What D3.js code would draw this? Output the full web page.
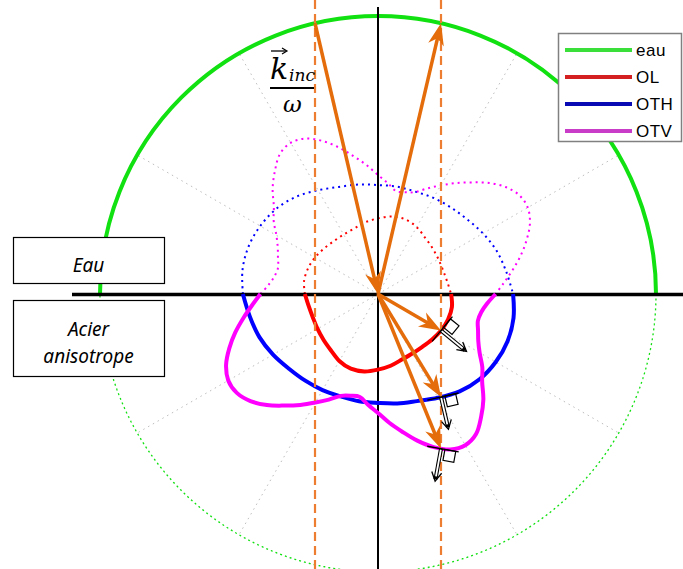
<!DOCTYPE html>
<html>
<head>
<meta charset="utf-8">
<script src="https://cdn.jsdelivr.net/npm/d3@7"></script>
<style>
  body { margin: 0; background: #fff; }
  svg { display: block; }
</style>
</head>
<body>
<div id="graph"></div>
<script>
// Slowness curves, normalised by the water slowness.
// Only the half under the interface is listed (angle from +x, turning downward);
// the dotted upper half is the same curve turned by 180 degrees.
const anglesLT = [0, 10, 20, 30, 40, 50, 60, 70, 80, 90, 100, 110, 120, 130, 140, 150, 160, 170, 180];
const slownessOL = [0.263, 0.270, 0.268, 0.262, 0.254, 0.248, 0.247, 0.251, 0.262, 0.272, 0.283, 0.286, 0.278, 0.264, 0.256, 0.251, 0.249, 0.253, 0.263];
const slownessOTH = [0.486, 0.495, 0.496, 0.489, 0.477, 0.457, 0.431, 0.410, 0.400, 0.392, 0.392, 0.392, 0.399, 0.407, 0.418, 0.436, 0.454, 0.468, 0.486];
const anglesTV = [0, 5, 10, 15, 20, 25, 30, 35, 40, 45, 50, 55, 60, 65, 70, 75, 80, 85, 90,
                  95, 100, 105, 110, 115, 120, 125, 130, 135, 140, 145, 150, 155, 160, 165, 170, 175, 180];
const slownessOTV = [0.423, 0.394, 0.377, 0.372, 0.383, 0.398, 0.422, 0.458, 0.489, 0.536, 0.577, 0.615, 0.628, 0.617, 0.586, 0.546, 0.503, 0.465, 0.428,
                     0.401, 0.376, 0.379, 0.390, 0.419, 0.451, 0.487, 0.524, 0.565, 0.599, 0.620, 0.622, 0.603, 0.569, 0.531, 0.491, 0.454, 0.423];
const slownessEau = 1;
const kInc = 0.2266;   // tangential part of k_inc / omega
const gridAngles = [30, 60, 120, 150, 210, 240, 300, 330];
const legendNames = ["eau", "OL", "OTH", "OTV"];
const legendColors = ["#3ADF3A", "#D42020", "#0A0AB4", "#C83CC8"];

const width = 683, height = 569;
const cx = 378, cy = 294;
const orange = "#E46C0A";
const r = d3.scaleLinear().domain([0, 1]).range([0, 278]);
const rad = (deg) => deg * Math.PI / 180;

const svg = d3.select("#graph").append("svg")
  .attr("width", width).attr("height", height);
const g = svg.append("g").attr("transform", "translate(" + cx + "," + cy + ")");

// grid rays
gridAngles.forEach((a) => {
  g.append("line")
    .attr("x1", 0).attr("y1", 0)
    .attr("x2", r(slownessEau) * Math.cos(rad(a)))
    .attr("y2", -r(slownessEau) * Math.sin(rad(a)))
    .attr("stroke", "#BDBDBD").attr("stroke-width", 1)
    .attr("stroke-dasharray", "1.5,4");
});

// water circle: solid above, dotted below
const arc = d3.arc().innerRadius(r(slownessEau)).outerRadius(r(slownessEau));
g.append("path")
  .attr("d", arc({startAngle: -Math.PI / 2, endAngle: Math.PI / 2}))
  .attr("fill", "none").attr("stroke", "#11E011").attr("stroke-width", 4);
g.append("path")
  .attr("d", arc({startAngle: Math.PI / 2, endAngle: 3 * Math.PI / 2}))
  .attr("fill", "none").attr("stroke", "#11E011").attr("stroke-width", 1.3)
  .attr("stroke-dasharray", "1.5,3.5");

const modes = [
  {name: "OL", angles: anglesLT, values: slownessOL, color: "#FF0000"},
  {name: "OTH", angles: anglesLT, values: slownessOTH, color: "#0000FF"},
  {name: "OTV", angles: anglesTV, values: slownessOTV, color: "#FF00FF"}
];

const lower = d3.lineRadial()
  .angle((d) => rad(d.a + 90))
  .radius((d) => r(d.s))
  .curve(d3.curveCatmullRom);
const upper = d3.lineRadial()
  .angle((d) => rad(d.a + 270))
  .radius((d) => r(d.s))
  .curve(d3.curveCatmullRom);

modes.forEach((m) => {
  m.pts = m.angles.map((a, i) => ({a: a, s: m.values[i]}));
  g.append("path")
    .attr("d", upper(m.pts))
    .attr("fill", "none").attr("stroke", m.color)
    .attr("stroke-width", 2).attr("stroke-dasharray", "2,4");
});

// axes
g.append("line")
  .attr("x1", 0).attr("y1", 7 - cy).attr("x2", 0).attr("y2", height - cy)
  .attr("stroke", "#000").attr("stroke-width", 2);
g.append("line")
  .attr("x1", 72 - cx).attr("y1", 0.5).attr("x2", width - cx).attr("y2", 0.5)
  .attr("stroke", "#000").attr("stroke-width", 3.5);

// solid lower halves
modes.forEach((m) => {
  m.node = g.append("path")
    .attr("d", lower(m.pts))
    .attr("fill", "none").attr("stroke", m.color)
    .attr("stroke-width", 4)
    .node();
});

// projection lines of k_inc / omega
[-kInc, kInc].forEach((k) => {
  g.append("line")
    .attr("x1", r(k)).attr("y1", -cy).attr("x2", r(k)).attr("y2", height - cy)
    .attr("stroke", "#ED7D31").attr("stroke-width", 2.2)
    .attr("stroke-dasharray", "9,5");
});

// first crossing of a lower curve with x = xk
const crossing = (node, xk) => {
  const L = node.getTotalLength();
  let prev = node.getPointAtLength(0);
  for (let s = 0.5; s <= L; s += 0.5) {
    const p = node.getPointAtLength(s);
    if ((prev.x - xk) * (p.x - xk) <= 0 && p.y > 0) {
      const t = (xk - prev.x) / ((p.x - prev.x) || 1e-9);
      const a = node.getPointAtLength(Math.max(0, s - 3));
      const b = node.getPointAtLength(Math.min(L, s + 3));
      return {x: xk, y: prev.y + t * (p.y - prev.y), tx: b.x - a.x, ty: b.y - a.y};
    }
    prev = p;
  }
  return null;
};

const orangeArrow = (from, to) => {
  const dx = to[0] - from[0], dy = to[1] - from[1];
  const len = Math.hypot(dx, dy);
  const ux = dx / len, uy = dy / len, nx = -uy, ny = ux;
  const L = 22, W = 8;
  g.append("line")
    .attr("x1", from[0]).attr("y1", from[1])
    .attr("x2", to[0] - 0.6 * L * ux).attr("y2", to[1] - 0.6 * L * uy)
    .attr("stroke", orange).attr("stroke-width", 3.5);
  const p = [
    [to[0], to[1]],
    [to[0] - L * ux + W * nx, to[1] - L * uy + W * ny],
    [to[0] - 0.7 * L * ux, to[1] - 0.7 * L * uy],
    [to[0] - L * ux - W * nx, to[1] - L * uy - W * ny]
  ];
  g.append("path").attr("d", "M" + p.join("L") + "Z").attr("fill", orange);
};

const topY = -Math.sqrt(1 - kInc * kInc);
orangeArrow([r(-kInc), r(topY)], [0, 0]);
orangeArrow([0, 0], [r(kInc), r(topY)]);

modes.forEach((m) => {
  const c = crossing(m.node, r(kInc));
  if (!c) return;
  orangeArrow([0, 0], [c.x, c.y]);

  let tl = Math.hypot(c.tx, c.ty);
  let tx = c.tx / tl, ty = c.ty / tl;
  if (tx < 0) { tx = -tx; ty = -ty; }
  let nx = -ty, ny = tx;
  if (nx * c.x + ny * c.y < 0) { nx = -nx; ny = -ny; }

  g.append("line")
    .attr("x1", c.x - 14 * tx).attr("y1", c.y - 14 * ty)
    .attr("x2", c.x + 18 * tx).attr("y2", c.y + 18 * ty)
    .attr("stroke", "#000").attr("stroke-width", 1.3);
  const sq = [
    [c.x + 4 * tx, c.y + 4 * ty],
    [c.x + 15 * tx, c.y + 15 * ty],
    [c.x + 15 * tx + 11 * nx, c.y + 15 * ty + 11 * ny],
    [c.x + 4 * tx + 11 * nx, c.y + 4 * ty + 11 * ny]
  ];
  g.append("path").attr("d", "M" + sq.join("L") + "Z")
    .attr("fill", "none").attr("stroke", "#000").attr("stroke-width", 1.2);

  const ex = c.x + 33 * nx, ey = c.y + 33 * ny;
  g.append("line")
    .attr("x1", c.x).attr("y1", c.y).attr("x2", ex - 2 * nx).attr("y2", ey - 2 * ny)
    .attr("stroke", "#000").attr("stroke-width", 4);
  g.append("line")
    .attr("x1", c.x + 1 * nx).attr("y1", c.y + 1 * ny).attr("x2", ex - 5 * nx).attr("y2", ey - 5 * ny)
    .attr("stroke", "#fff").attr("stroke-width", 1.8);
  g.append("path")
    .attr("d", "M" + [ex - 9 * nx + 5 * tx, ey - 9 * ny + 5 * ty] + "L" + [ex, ey] +
               "L" + [ex - 9 * nx - 5 * tx, ey - 9 * ny - 5 * ty])
    .attr("fill", "none").attr("stroke", "#000").attr("stroke-width", 1.3);
});

// medium boxes
const boxes = [
  {x: 13, y: 237, w: 151, h: 46, lines: ["Eau"], y0: 272},
  {x: 13, y: 300, w: 151, h: 76, lines: ["Acier", "anisotrope"], y0: 336}
];
boxes.forEach((b) => {
  svg.append("rect")
    .attr("x", b.x + 0.5).attr("y", b.y + 0.5).attr("width", b.w).attr("height", b.h)
    .attr("fill", "#fff").attr("stroke", "#000").attr("stroke-width", 1.2);
  b.lines.forEach((t, i) => {
    svg.append("text")
      .attr("x", b.x + b.w / 2).attr("y", b.y0 + i * 27)
      .attr("text-anchor", "middle")
      .style("font-family", "'Noto Sans', sans-serif")
      .style("font-style", "italic").style("font-size", "19px")
      .text(t);
  });
});

// k_inc / omega label
const lab = svg.append("g").style("font-family", "'DejaVu Serif', serif").style("font-style", "italic");
lab.append("text").attr("x", 270).attr("y", 79).style("font-size", "30px").text("k");
lab.append("text").attr("x", 289).attr("y", 81).style("font-size", "17px").text("inc");
lab.append("line").attr("x1", 271).attr("y1", 51).attr("x2", 286).attr("y2", 51)
  .attr("stroke", "#000").attr("stroke-width", 1.3);
lab.append("path").attr("d", "M282,48L287,51L282,54").attr("fill", "none")
  .attr("stroke", "#000").attr("stroke-width", 1.2);
lab.append("line").attr("x1", 270).attr("y1", 88).attr("x2", 314).attr("y2", 88)
  .attr("stroke", "#000").attr("stroke-width", 2);
lab.append("text").attr("x", 283).attr("y", 112).style("font-size", "23px").text("ω");

// legend
const legend = svg.append("g");
legend.append("rect")
  .attr("x", 558.5).attr("y", 33.5).attr("width", 123).attr("height", 108)
  .attr("fill", "#fff").attr("stroke", "#808080").attr("stroke-width", 1.5);
legendNames.forEach((name, i) => {
  const y = 50 + i * 27;
  legend.append("line")
    .attr("x1", 565).attr("y1", y).attr("x2", 632).attr("y2", y)
    .attr("stroke", legendColors[i]).attr("stroke-width", 4);
  legend.append("text")
    .attr("x", 636).attr("y", y + 6)
    .style("font-family", "'Liberation Sans', Arial, sans-serif")
    .style("font-size", "17px").style("letter-spacing", "0.5px")
    .text(name);
});
</script>
</body>
</html>
